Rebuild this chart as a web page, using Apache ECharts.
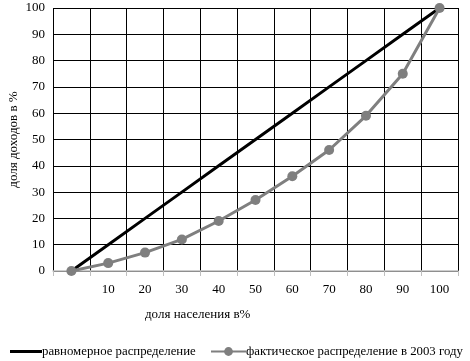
<!DOCTYPE html>
<html><head><meta charset="utf-8">
<script src="https://cdn.jsdelivr.net/npm/echarts@6/dist/echarts.min.js"></script>
<style>html,body{margin:0;padding:0;background:#fff}#c{width:470px;height:361px}</style>
</head><body><div id="c"></div>
<script>
const categories = ['0','10','20','30','40','50','60','70','80','90','100'];
const equalValues = [0,10,20,30,40,50,60,70,80,90,100];
const actualValues = [0,3,7,12,19,27,36,46,59,75,100];
const seriesNames = ['равномерное распределение','фактическое распределение в 2003 году'];
const xTitle = 'доля населения в%';
const yTitle = 'доля доходов в %';
const font = 'Liberation Serif';

const legendText = {fontFamily:font,fontSize:12.8,color:'#000',padding:[0,0,0,-5]};
const chart = echarts.init(document.getElementById('c'), null, {renderer:'canvas'});
chart.setOption({
  animation:false,
  backgroundColor:'#fff',
  textStyle:{fontFamily:font},
  title:{text:xTitle,left:140,top:303,textStyle:{fontFamily:font,fontSize:13,fontWeight:'normal',color:'#000'}},
  grid:{left:53,right:12,top:8,bottom:90,outerBoundsMode:'none'},
  legend:[
    {top:340,left:5,itemWidth:32,itemHeight:3,icon:'rect',textStyle:legendText,data:[seriesNames[0]]},
    {top:340,left:205,itemWidth:35,itemHeight:11,textStyle:legendText,data:[seriesNames[1]]}
  ],
  xAxis:{
    type:'category',data:categories,boundaryGap:true,
    axisLine:{lineStyle:{color:'#bfbfbf',width:1.5}},
    axisTick:{show:true,length:5,lineStyle:{color:'#bfbfbf'}},
    axisLabel:{color:'#000',fontSize:13,fontFamily:font,margin:12,formatter:v=>v==='0'?'':v},
    splitLine:{show:true,lineStyle:{color:'#000',width:1}}
  },
  yAxis:{
    type:'value',min:0,max:100,interval:10,
    name:yTitle,nameLocation:'middle',nameGap:33,nameMoveOverlap:false,
    nameTextStyle:{fontFamily:font,fontSize:13,color:'#000'},
    axisLine:{show:false},axisTick:{show:false},
    axisLabel:{color:'#000',fontSize:13,fontFamily:font,margin:8},
    splitLine:{lineStyle:{color:'#000',width:1}}
  },
  series:[
    {name:seriesNames[0],type:'line',data:equalValues,showSymbol:false,symbol:'none',
     lineStyle:{color:'#000',width:3},itemStyle:{color:'#000'}},
    {name:seriesNames[1],type:'line',data:actualValues,symbol:'circle',symbolSize:10,
     lineStyle:{color:'#7f7f7f',width:3},itemStyle:{color:'#7f7f7f'}}
  ]
});
</script></body></html>
